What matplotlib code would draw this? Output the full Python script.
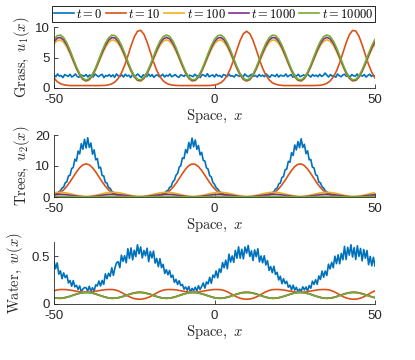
import numpy as np
import matplotlib
matplotlib.use("Agg")
import matplotlib.pyplot as plt

plt.rcParams['mathtext.fontset'] = 'cm'
plt.rcParams['font.family'] = ['Liberation Sans', 'DejaVu Sans']

# ---------------- data ----------------
labels = [r'$t = 0$', r'$t = 10$', r'$t = 100$', r'$t = 1000$', r'$t = 10000$']
colors = ['#0072BD', '#D95319', '#EDB120', '#7E2F8E', '#77AC30']
xticks = [-50, 0, 50]
xticklabels = ['-50', '0', '50']

# Grass u1(x)
grass_t0 = [2.1,1.85,2.3,1.95,2.05,1.7,2.2,2.05,1.9,2.25,1.8,2.0,2.3,1.9,1.75,2.15,2.05,1.95,2.2,1.8,
            2.15,1.95,1.8,2.3,2.05,1.85,2.1,2.25,1.7,2.05,1.95,2.2,1.85,2.15,1.75,2.3,2.0,1.9,2.15,1.8,
            2.25,1.95,2.1,1.7,2.2,1.85,2.05,2.3,1.95,1.75,2.15,2.05,1.85,2.3,1.9,2.2,1.75,2.05,2.15,1.85,
            2.0,2.25,1.8,2.1,1.95,2.3,1.85,2.0,2.2,1.9,1.75,2.15,2.05,1.9,2.3,1.8,2.1,2.0,1.85,2.25,
            1.95,2.05,1.7,2.2,2.1,1.9,2.35,1.85,2.0,2.15,1.8,2.25,1.95,2.05,1.75,2.2,2.1,1.85,2.3,1.95,
            2.0,1.8,2.2,2.05,1.9,2.15,1.75,2.3,2.0,1.85,2.1,2.25,1.9,2.05,1.8,2.2,1.95,2.1,1.85,2.3,
            2.0,1.75,2.15,2.05,1.9,2.25,1.8,2.1,2.0,1.95,2.3,1.85,2.05,2.2,1.75,2.1,1.95,2.25,1.85,2.0,
            2.15,1.9,2.3,2.05,1.8,2.2,1.95,2.1,1.85,2.25,1.9,2.05,2.45,2.1,1.8,2.2,1.95,2.05,1.75,2.3,
            2.0,1.85,2.15,2.25,1.9,2.05,1.8,2.2,2.0,1.95,2.3,1.85,2.1,1.95,2.2,1.8,2.05,2.25,1.9,2.15,1.85]
grass_t10 = [1.63,1.04,0.70,0.53,0.45,0.40,0.40,0.40,0.40,0.40,0.40,0.40,0.40,0.40,0.40,0.41,0.43,0.52,0.68,1.00,
             1.56,2.45,3.70,5.25,6.91,8.37,9.30,9.46,8.82,7.54,5.92,4.29,2.90,1.87,1.19,0.78,0.57,0.47,0.42,0.40,
             0.40,0.40,0.40,0.40,0.40,0.40,0.40,0.40,0.41,0.43,0.49,0.62,0.87,1.34,2.10,3.23,4.67,6.29,7.81,8.90,
             9.30,8.90,7.81,6.29,4.67,3.23,2.10,1.34,0.87,0.62,0.49,0.43,0.40,0.40,0.40,0.40,0.40,0.40,0.40,0.40,
             0.40,0.41,0.42,0.46,0.56,0.76,1.14,1.79,2.78,4.14,5.75,7.39,8.72,9.43,9.35,8.49,7.07,5.42,3.85,2.56,1.63]
grass_t100 = [7.23,7.78,7.88,7.50,6.70,5.59,4.33,3.09,2.05,1.35,1.10,1.32,1.99,3.01,4.24,5.51,6.63,7.46,7.87,7.80,
              7.28,6.36,5.18,3.90,2.71,1.77,1.22,1.12,1.50,2.30,3.41,4.67,5.91,6.95,7.65,7.90,7.68,7.01,5.99,4.76,
              3.49,2.37,1.54,1.13,1.20,1.72,2.64,3.82,5.10,6.29,
              7.23,7.78,7.88,7.50,6.70,5.59,4.33,3.09,2.05,1.35,1.10,1.32,1.99,3.01,4.24,5.51,6.63,7.46,7.87,7.80,
              7.28,6.36,5.18,3.90,2.71,1.77,1.22,1.12,1.50,2.30,3.41,4.67,5.91,6.95,7.65,7.90,7.68,7.01,5.99,4.76,
              3.49,2.37,1.54,1.13,1.20,1.72,2.64,3.82,5.10,6.29,7.23]
grass_t1000 = [7.60,8.18,8.28,7.88,7.05,5.89,4.57,3.28,2.19,1.47,1.20,1.43,2.13,3.20,4.48,5.80,6.98,7.84,8.27,8.20,
               7.65,6.69,5.46,4.13,2.89,1.90,1.32,1.22,1.62,2.45,3.61,4.93,6.22,7.31,8.03,8.30,8.07,7.37,6.30,5.02,
               3.70,2.52,1.66,1.23,1.30,1.85,2.81,4.04,5.37,6.61,
               7.60,8.18,8.28,7.88,7.05,5.89,4.57,3.28,2.19,1.47,1.20,1.43,2.13,3.20,4.48,5.80,6.98,7.84,8.27,8.20,
               7.65,6.69,5.46,4.13,2.89,1.90,1.32,1.22,1.62,2.45,3.61,4.93,6.22,7.31,8.03,8.30,8.07,7.37,6.30,5.02,
               3.70,2.52,1.66,1.23,1.30,1.85,2.81,4.04,5.37,6.61,7.60]
grass_t10000 = [7.97,8.57,8.68,8.26,7.39,6.19,4.81,3.47,2.34,1.58,1.30,1.54,2.27,3.38,4.72,6.10,7.32,8.22,8.66,8.59,
                8.02,7.02,5.74,4.35,3.06,2.03,1.43,1.32,1.74,2.61,3.81,5.19,6.53,7.66,8.42,8.70,8.46,7.73,6.62,5.28,
                3.90,2.68,1.78,1.34,1.41,1.98,2.98,4.26,5.65,6.94,
                7.97,8.57,8.68,8.26,7.39,6.19,4.81,3.47,2.34,1.58,1.30,1.54,2.27,3.38,4.72,6.10,7.32,8.22,8.66,8.59,
                8.02,7.02,5.74,4.35,3.06,2.03,1.43,1.32,1.74,2.61,3.81,5.19,6.53,7.66,8.42,8.70,8.46,7.73,6.62,5.28,
                3.90,2.68,1.78,1.34,1.41,1.98,2.98,4.26,5.65,6.94,7.97]

# Trees u2(x)
trees_t0 = [0.6,0.9,1.1,1.7,2.0,2.9,3.2,4.6,4.9,6.8,7.0,9.2,9.5,12.2,11.6,14.8,13.9,17.2,15.4,18.6,
            15.8,19.1,16.0,17.4,13.8,15.2,12.0,12.4,9.3,9.6,6.9,6.8,4.7,4.5,3.0,2.8,1.8,1.5,0.9,0.8,
            0.5,0.4,0.25,0.2,0.1,0.1,0.05,0.1,0.08,0.05,0.1,0.06,0.05,0.08,0.1,0.05,0.07,0.1,0.1,
            0.1,0.1,0.15,0.15,0.2,0.3,0.35,0.6,0.7,1.1,1.2,1.9,2.1,3.1,3.4,4.9,5.4,7.0,7.6,9.6,
            10.1,12.6,12.4,15.3,14.2,17.6,15.6,19.0,16.2,18.4,15.4,16.6,13.6,14.4,11.8,11.6,9.4,9.0,6.9,6.5,
            4.7,4.1,3.0,2.6,1.8,1.5,1.0,0.8,0.55,0.4,0.3,0.2,0.15,
            0.1,0.05,0.08,0.1,0.06,0.05,0.1,0.07,0.05,0.1,0.08,0.1,0.1,
            0.1,0.1,0.12,0.15,0.2,0.25,0.35,0.5,0.6,0.9,1.0,1.5,1.7,2.6,2.8,4.2,4.5,6.3,6.6,8.8,
            9.0,11.5,11.2,14.3,13.4,16.8,15.2,17.9,15.9,18.8,16.0,17.0,14.0,14.9,12.0,12.1,9.6,9.4,7.2,6.9,
            4.8,4.6,3.3,2.9,2.0,1.7,1.1,1.0,0.6,0.55,0.35,0.3,0.2,0.15,
            0.1,0.05,0.08,0.1,0.06,0.1,0.05,0.08,0.1,0.07,0.1,0.08,0.1,0.12,0.15,0.2,0.2,0.3,0.35,0.45,0.55,0.65]
trees_t10 = [0.47,0.85,1.45,2.31,3.47,4.90,6.49,8.08,9.44,10.37,10.70,10.37,9.44,8.08,6.49,4.90,3.47,2.31,1.45,0.85,
             0.47,0.24,0.12,0.05,0.02,0.01,0.01,0.01,0.01,0.02,0.04,0.09,0.19,0.38,0.71,1.22,2.00,3.06,4.40,5.95,
             7.56,9.03,10.12,10.66,10.55,9.81,8.56,7.03,5.41,3.92,2.66,1.70,1.02,0.58,0.31,0.15,0.07,0.03,0.01,0.01,
             0.01,0.01,0.01,0.03,0.07,0.15,0.31,0.58,1.02,1.70,2.66,3.92,5.41,7.03,8.56,9.81,10.55,10.66,10.12,9.03,
             7.56,5.95,4.40,3.06,2.00,1.22,0.71,0.38,0.19,0.09,0.04,0.02,0.01,0.01,0.01,0.01,0.02,0.05,0.12,0.24,0.47]
trees_t100 = [1.37,1.48,1.50,1.42,1.27,1.06,0.82,0.58,0.38,0.25,0.20,0.24,0.37,0.57,0.80,1.04,1.26,1.42,1.49,1.48,
              1.38,1.21,0.98,0.74,0.51,0.33,0.22,0.20,0.28,0.43,0.64,0.88,1.12,1.32,1.45,1.50,1.46,1.33,1.13,0.90,
              0.66,0.44,0.28,0.21,0.22,0.32,0.49,0.72,0.96,1.19,
              1.37,1.48,1.50,1.42,1.27,1.06,0.82,0.58,0.38,0.25,0.20,0.24,0.37,0.57,0.80,1.04,1.26,1.42,1.49,1.48,
              1.38,1.21,0.98,0.74,0.51,0.33,0.22,0.20,0.28,0.43,0.64,0.88,1.12,1.32,1.45,1.50,1.46,1.33,1.13,0.90,
              0.66,0.44,0.28,0.21,0.22,0.32,0.49,0.72,0.96,1.19,1.37]
trees_t1000 = [0.77,0.84,0.85,0.80,0.71,0.58,0.43,0.28,0.16,0.08,0.05,0.08,0.15,0.28,0.42,0.57,0.70,0.80,0.85,0.84,
               0.78,0.67,0.53,0.38,0.24,0.13,0.06,0.05,0.10,0.19,0.32,0.47,0.62,0.74,0.82,0.85,0.82,0.75,0.62,0.48,
               0.33,0.20,0.10,0.05,0.06,0.12,0.23,0.37,0.52,0.66,
               0.77,0.84,0.85,0.80,0.71,0.58,0.43,0.28,0.16,0.08,0.05,0.08,0.15,0.28,0.42,0.57,0.70,0.80,0.85,0.84,
               0.78,0.67,0.53,0.38,0.24,0.13,0.06,0.05,0.10,0.19,0.32,0.47,0.62,0.74,0.82,0.85,0.82,0.75,0.62,0.48,
               0.33,0.20,0.10,0.05,0.06,0.12,0.23,0.37,0.52,0.66,0.77]
trees_t10000 = [0.18,0.20,0.20,0.19,0.17,0.15,0.12,0.09,0.06,0.05,0.04,0.05,0.06,0.08,0.11,0.14,0.17,0.19,0.20,0.20,
                0.19,0.16,0.14,0.11,0.08,0.06,0.04,0.04,0.05,0.07,0.09,0.12,0.15,0.18,0.19,0.20,0.19,0.18,0.16,0.13,
                0.10,0.07,0.05,0.04,0.04,0.05,0.08,0.10,0.13,0.16,
                0.18,0.20,0.20,0.19,0.17,0.15,0.12,0.09,0.06,0.05,0.04,0.05,0.06,0.08,0.11,0.14,0.17,0.19,0.20,0.20,
                0.19,0.16,0.14,0.11,0.08,0.06,0.04,0.04,0.05,0.07,0.09,0.12,0.15,0.18,0.19,0.20,0.19,0.18,0.16,0.13,
                0.10,0.07,0.05,0.04,0.04,0.05,0.08,0.10,0.13,0.16,0.18]

# Water w(x)
water_t0 = [0.451,0.370,0.431,0.313,0.347,0.266,0.326,0.277,0.302,0.221,0.246,0.186,0.245,0.180,0.196,0.153,0.190,0.126,0.157,0.173,
            0.170,0.137,0.186,0.132,0.171,0.136,0.201,0.189,0.241,0.189,0.247,0.206,0.316,0.265,0.322,0.290,0.380,0.300,0.382,0.433,
            0.444,0.381,0.512,0.447,0.506,0.432,0.580,0.478,0.588,0.463,0.564,0.497,0.621,0.526,0.598,0.483,0.561,0.506,0.585,0.444,
            0.551,0.483,0.555,0.429,0.477,0.392,0.475,0.381,0.416,0.320,0.360,0.306,0.352,0.280,0.302,0.227,0.258,0.205,0.244,0.193,
            0.205,0.156,0.179,0.145,0.183,0.121,0.164,0.140,0.176,0.135,0.192,0.152,0.184,0.221,0.167,0.231,0.211,0.280,0.217,0.303,
            0.278,0.347,0.274,0.368,0.332,0.434,0.380,0.460,0.369,0.522,0.439,0.504,0.437,0.562,0.480,0.599,0.480,0.574,0.473,0.597,
            0.533,0.614,0.498,0.557,0.456,0.567,0.495,0.579,0.442,0.504,0.432,0.506,0.410,0.455,0.352,0.393,0.329,0.395,0.310,0.332,
            0.252,0.291,0.213,0.265,0.215,0.238,0.176,0.197,0.148,0.197,0.146,0.175,0.128,0.157,0.133,0.180,0.147,0.179,0.137,0.193,
            0.165,0.239,0.206,0.255,0.207,0.294,0.257,0.345,0.281,0.346,0.299,0.417,0.368,0.437,0.380,0.501,0.423,0.516,0.422,0.531,
            0.464,0.604,0.466,0.594,0.512,0.621,0.492,0.591,0.466,0.610,0.499,0.582,0.452,0.571,0.480,0.561,0.412,0.499,0.400,0.490,0.398]
water_t10 = [0.138,0.148,0.152,0.152,0.150,0.146,0.140,0.134,0.128,0.124,0.122,0.124,0.128,0.134,0.140,0.146,0.150,0.152,0.152,0.148,
             0.138,0.122,0.103,0.084,0.068,0.057,0.051,0.050,0.055,0.064,0.078,0.097,0.116,0.133,0.145,0.151,0.152,0.151,0.148,0.142,
             0.136,0.130,0.125,0.122,0.123,0.127,0.132,0.138,0.144,0.149,0.152,0.152,0.150,0.142,0.128,0.110,0.090,0.073,0.060,0.053,
             0.050,0.053,0.060,0.073,0.090,0.110,0.128,0.142,0.150,0.152,0.152,0.149,0.144,0.138,0.132,0.127,0.123,0.122,0.125,0.130,
             0.136,0.142,0.148,0.151,0.152,0.151,0.145,0.133,0.116,0.097,0.078,0.064,0.055,0.050,0.051,0.057,0.068,0.084,0.103,0.122,0.138]
water_t100 = [0.066,0.060,0.059,0.063,0.071,0.081,0.094,0.106,0.116,0.123,0.125,0.123,0.116,0.106,0.094,0.082,0.071,0.063,0.059,0.060,
              0.065,0.074,0.085,0.098,0.109,0.118,0.124,0.125,0.121,0.113,0.103,0.090,0.078,0.068,0.061,0.059,0.061,0.068,0.078,0.090,
              0.102,0.113,0.121,0.125,0.124,0.119,0.110,0.099,0.086,0.075,
              0.066,0.060,0.059,0.063,0.071,0.081,0.094,0.106,0.116,0.123,0.125,0.123,0.116,0.106,0.094,0.082,0.071,0.063,0.059,0.060,
              0.065,0.074,0.085,0.098,0.109,0.118,0.124,0.125,0.121,0.113,0.103,0.090,0.078,0.068,0.061,0.059,0.061,0.068,0.078,0.090,
              0.102,0.113,0.121,0.125,0.124,0.119,0.110,0.099,0.086,0.075,0.066]
water_t1000 = [0.066,0.061,0.060,0.064,0.071,0.081,0.093,0.104,0.113,0.120,0.122,0.120,0.114,0.105,0.093,0.082,0.072,0.064,0.060,0.061,
               0.066,0.074,0.085,0.096,0.107,0.116,0.121,0.122,0.118,0.111,0.101,0.089,0.078,0.069,0.062,0.060,0.062,0.068,0.077,0.089,
               0.100,0.110,0.118,0.122,0.121,0.116,0.108,0.097,0.086,0.075,
               0.066,0.061,0.060,0.064,0.071,0.081,0.093,0.104,0.113,0.120,0.122,0.120,0.114,0.105,0.093,0.082,0.072,0.064,0.060,0.061,
               0.066,0.074,0.085,0.096,0.107,0.116,0.121,0.122,0.118,0.111,0.101,0.089,0.078,0.069,0.062,0.060,0.062,0.068,0.077,0.089,
               0.100,0.110,0.118,0.122,0.121,0.116,0.108,0.097,0.086,0.075,0.066]
water_t10000 = [0.066,0.061,0.060,0.064,0.071,0.080,0.092,0.102,0.112,0.118,0.120,0.118,0.112,0.103,0.092,0.081,0.071,0.064,0.060,0.061,
                0.066,0.074,0.084,0.095,0.106,0.114,0.119,0.120,0.116,0.109,0.100,0.088,0.078,0.068,0.062,0.060,0.062,0.068,0.077,0.088,
                0.099,0.109,0.116,0.120,0.119,0.114,0.106,0.096,0.085,0.074,
                0.066,0.061,0.060,0.064,0.071,0.080,0.092,0.102,0.112,0.118,0.120,0.118,0.112,0.103,0.092,0.081,0.071,0.064,0.060,0.061,
                0.066,0.074,0.084,0.095,0.106,0.114,0.119,0.120,0.116,0.109,0.100,0.088,0.078,0.068,0.062,0.060,0.062,0.068,0.077,0.088,
                0.099,0.109,0.116,0.120,0.119,0.114,0.106,0.096,0.085,0.074,0.066]

panels = [
    ([grass_t0, grass_t10, grass_t100, grass_t1000, grass_t10000],
     r'$\mathrm{Grass,}\ u_1(x)$', (0, 10), [0, 5, 10], ['0', '5', '10']),
    ([trees_t0, trees_t10, trees_t100, trees_t1000, trees_t10000],
     r'$\mathrm{Trees,}\ u_2(x)$', (0, 20), [0, 10, 20], ['0', '10', '20']),
    ([water_t0, water_t10, water_t100, water_t1000, water_t10000],
     r'$\mathrm{Water,}\ w(x)$', (0, 0.65), [0, 0.5], ['0', '0.5']),
]

# ---------------- figure ----------------
W, H = 415, 360
fig = plt.figure(figsize=(W / 100, H / 100), dpi=100)
axc = '#262626'
rects = [(54, 27, 88), (54, 135, 197), (54, 242, 304)]
ylab_x = [-0.07, -0.07, -0.09]
handles = []
for k, ((series, ylab, ylim, yt, ytl), (lpx, tpx, bpx)) in enumerate(zip(panels, rects)):
    ax = fig.add_axes([lpx / W, 1 - bpx / H, 321 / W, (bpx - tpx) / H])
    for vals, col, lab in zip(series, colors, labels):
        xs = np.linspace(-50, 50, len(vals))
        ln, = ax.plot(xs, vals, color=col, lw=1.2, label=lab)
        if k == 0:
            handles.append(ln)
    ax.set_xlim(-50, 50)
    ax.set_ylim(*ylim)
    ax.set_xticks(xticks)
    ax.set_xticklabels(xticklabels)
    ax.set_yticks(yt)
    ax.set_yticklabels(ytl)
    for s in ['top', 'right']:
        ax.spines[s].set_visible(False)
    for s in ['left', 'bottom']:
        ax.spines[s].set_color(axc)
        ax.spines[s].set_linewidth(0.6)
    ax.tick_params(direction='in', length=3, width=0.6, color=axc, labelcolor=axc,
                   labelsize=9.5)
    ax.tick_params(axis='x', pad=4.5)
    ax.tick_params(axis='y', pad=3)
    ax.set_xlabel(r'$\mathrm{Space,}\ x$', fontsize=10.5, color=axc, labelpad=1)
    ax.set_ylabel(ylab, fontsize=10.5, color=axc)
    ax.yaxis.set_label_coords(ylab_x[k], 0.5)

leg = fig.legend(handles=handles, labels=labels, loc='center',
                 bbox_to_anchor=(213.5 / W, 1 - 14 / H),
                 ncol=5, fontsize=9, handlelength=1.6, handletextpad=0.2,
                 columnspacing=0.25, borderpad=0.15, borderaxespad=0.0,
                 fancybox=False, framealpha=1, edgecolor='black')
leg.get_frame().set_linewidth(0.6)

fig.savefig('out.png', dpi=100)
